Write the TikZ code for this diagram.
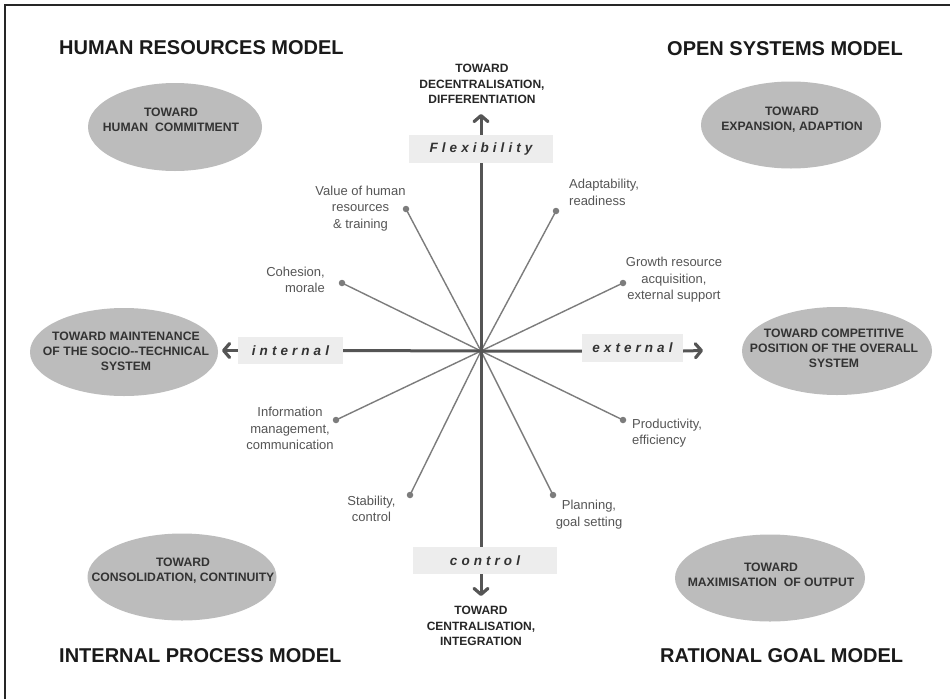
\documentclass[tikz,border=0pt]{standalone}
\usepackage{fontspec}
\setmainfont{Liberation Sans}
\newfontfamily\spacedfont[LetterSpace=30]{Liberation Sans}
\usetikzlibrary{arrows.meta,shapes.geometric}
\definecolor{axiscol}{HTML}{555555}
\definecolor{spokecol}{HTML}{7C7C7C}
\definecolor{ellcol}{HTML}{BCBCBC}
\definecolor{boxcol}{HTML}{EDEDED}
\definecolor{labcol}{HTML}{555555}
\definecolor{elltextcol}{HTML}{333333}
\definecolor{titlecol}{HTML}{1A1A1A}
\begin{document}
\begin{tikzpicture}[x=1pt,y=-1pt,
  titletext/.style={font=\fontsize{20}{24}\selectfont\bfseries, text=titlecol, inner sep=0pt, anchor=base west},
  ellshape/.style={ellipse, fill=ellcol, inner sep=0pt},
  elltext/.style={font=\fontsize{12.2}{15}\selectfont\bfseries, text=elltextcol, align=center, inner sep=0pt},
  endtext/.style={font=\fontsize{12}{15.5}\selectfont\bfseries, text=black!85, align=center, inner sep=0pt},
  axisbox/.style={fill=boxcol, inner sep=0pt, font=\spacedfont\fontsize{13.5}{16}\selectfont\bfseries\itshape, text=black!80},
  axisline/.style={draw=axiscol, line width=3pt},
  axisarrow/.style={draw=axiscol, line width=3pt, -{Straight Barb[length=6pt,width=14pt,line width=3.2pt,round]}},
  spokeline/.style={draw=spokecol, line width=1.4pt},
  spokedot/.style={circle, fill=spokecol, inner sep=0pt, minimum size=6.5pt},
  spoketext/.style={font=\fontsize{13}{16.5}\selectfont, text=labcol, inner sep=0pt}
]
\useasboundingbox (0,0) rectangle (950,699);
\fill[white] (0,0) rectangle (950,699);
\draw[line width=2pt, black!85] (5,699) -- (5,5) -- (950,5);

% titles
\node[titletext] (t1) at (59,54) {HUMAN RESOURCES MODEL};
\node[titletext] (t2) at (667,55) {OPEN SYSTEMS MODEL};
\node[titletext] (t3) at (59,662) {INTERNAL PROCESS MODEL};
\node[titletext] (t4) at (660,662) {RATIONAL GOAL MODEL};

% ellipses
\node[ellshape, minimum width=174pt, minimum height=88pt] (e1) at (175,127) {};
\node[elltext] (e1t) at (171,120) {TOWARD\\HUMAN\ \ COMMITMENT};
\node[ellshape, minimum width=188pt, minimum height=88pt] (e2) at (124,352) {};
\node[elltext] (e2t) at (126,351) {TOWARD MAINTENANCE\\OF THE SOCIO-{}-TECHNICAL\\SYSTEM};
\node[ellshape, minimum width=189pt, minimum height=87pt] (e3) at (182,577) {};
\node[elltext] (e3t) at (183,571) {TOWARD\\CONSOLIDATION, CONTINUITY};
\node[ellshape, minimum width=180pt, minimum height=87pt] (e4) at (791,125) {};
\node[elltext] (e4t) at (792,120) {TOWARD\\EXPANSION, ADAPTION};
\node[ellshape, minimum width=190pt, minimum height=88pt] (e5) at (837,351) {};
\node[elltext] (e5t) at (834,348) {TOWARD COMPETITIVE\\POSITION OF THE OVERALL\\SYSTEM};
\node[ellshape, minimum width=190pt, minimum height=87pt] (e6) at (770,578) {};
\node[elltext] (e6t) at (771,575) {TOWARD\\MAXIMISATION\ \ OF OUTPUT};

% center and axis boxes
\coordinate (c) at (481,351);
\node[axisbox, minimum width=144pt, minimum height=28pt] (flex) at (481,149) {Flexibility};
\node[axisbox, minimum width=144pt, minimum height=27pt] (ctrl) at (485,560.5) {control};
\node[axisbox, minimum width=105pt, minimum height=27pt] (int) at (290.5,350.5) {internal};
\node[axisbox, minimum width=101pt, minimum height=28pt] (ext) at (632.5,348) {external};

% spokes
\node[spokedot] (d1) at (406,209) {};
\node[spokedot] (d2) at (342,283) {};
\node[spokedot] (d3) at (556,211) {};
\node[spokedot] (d4) at (623,283) {};
\node[spokedot] (d5) at (336,420) {};
\node[spokedot] (d6) at (410,495) {};
\node[spokedot] (d7) at (623,420) {};
\node[spokedot] (d8) at (553,495) {};
\foreach \d in {d1,d2,d3,d4,d5,d6,d7,d8} \draw[spokeline] (c) -- (\d.center);

\node[spoketext, align=center] (l1) at (360.5,208.5) {Value of human\\resources\\\& training};
\node[spoketext, align=right, anchor=east] (l2) at (325,280) {Cohesion,\\morale};
\node[spoketext, align=left, anchor=west] (l3) at (569,192.5) {Adaptability,\\readiness};
\node[spoketext, align=center] (l4) at (674,280) {Growth resource\\acquisition,\\external support};
\node[spoketext, align=center] (l5) at (290,428.5) {Information\\management,\\communication};
\node[spoketext, align=center] (l6) at (371.5,509) {Stability,\\control};
\node[spoketext, align=left, anchor=west] (l7) at (632,433) {Productivity,\\efficiency};
\node[spoketext, align=center] (l8) at (589,514.5) {Planning,\\goal setting};

% axes
\draw[axisline] (flex.south) -- (c) -- (c |- ctrl.north);
\draw[axisline] (int.east) -- (c) -- (c -| ext.west);
\coordinate (topend) at (481,114);
\coordinate (botend) at (481,596);
\coordinate (leftend) at (222,350.5);
\coordinate (rightend) at (703,350.5);
\draw[axisarrow] (flex.north) -- (topend);
\draw[axisarrow] (c |- ctrl.south) -- (botend);
\draw[axisarrow] (int.west) -- (leftend);
\draw[axisarrow] (ext.east |- c) -- (rightend);

% axis end labels
\node[endtext] (topl) at (482,84) {TOWARD\\DECENTRALISATION,\\DIFFERENTIATION};
\node[endtext] (botl) at (481,626) {TOWARD\\CENTRALISATION,\\INTEGRATION};
\end{tikzpicture}
\end{document}
